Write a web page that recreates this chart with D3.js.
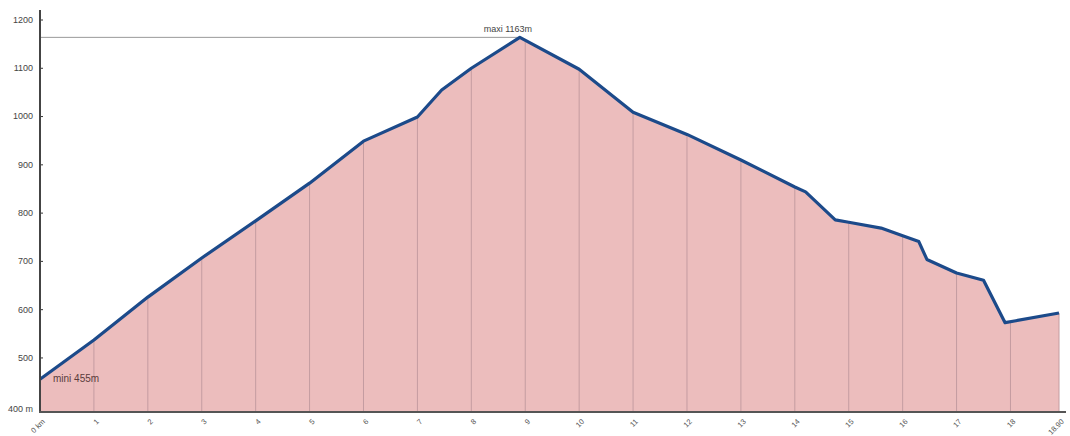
<!DOCTYPE html>
<html>
<head>
<meta charset="utf-8">
<script src="https://cdn.jsdelivr.net/npm/d3@7"></script>
<style>
body { margin: 0; background: #fff; }
svg { display: block; font-family: "Liberation Sans", Arial, sans-serif; }
</style>
</head>
<body>
<svg class="chart" width="1070" height="436"></svg>
<script>
// profile: distance (km) and elevation (m)
var km =   [0, 1, 2, 3, 4, 5, 6, 7, 7.45, 8, 8.9, 10, 11, 12, 13, 14, 14.2, 14.75, 15, 15.6, 16, 16.3, 16.45, 17, 17.5, 17.9, 18.1, 18.9];
var elev = [455, 536, 625, 706, 783, 861, 948, 998, 1054, 1099, 1163, 1097, 1008, 962, 909, 853, 843, 785, 780, 768, 752, 740, 703, 675, 660, 572, 576, 592];
var xTicks = [0, 1, 2, 3, 4, 5, 6, 7, 8, 9, 10, 11, 12, 13, 14, 15, 16, 17, 18, 18.9];
var xLabels = ["0 km", "1", "2", "3", "4", "5", "6", "7", "8", "9", "10", "11", "12", "13", "14", "15", "16", "17", "18", "18.90"];
var yTicks = [500, 600, 700, 800, 900, 1000, 1100, 1200];
var minLabel = "mini 455m", maxLabel = "maxi 1163m";

var svg = d3.select(".chart");
var x = d3.scaleLinear().domain([0, 18.9]).range([40, 1059]);
var y = d3.scaleLinear().domain([387, 1200]).range([412, 19.5]);
var pts = km.map(function(d, i) { return [d, elev[i]]; });

var area = d3.area().x(function(d) { return x(d[0]); }).y0(y(387)).y1(function(d) { return y(d[1]); });
var line = d3.line().x(function(d) { return x(d[0]); }).y(function(d) { return y(d[1]); });

svg.append("path").datum(pts).attr("d", area).attr("fill", "#ecbdbd");

// vertical grid inside fill
function elevAt(k) {
	for (var i = 1; i < km.length; i++) {
		if (k <= km[i]) {
			var t = (k - km[i-1]) / (km[i] - km[i-1]);
			return elev[i-1] + t * (elev[i] - elev[i-1]);
		}
	}
	return elev[elev.length - 1];
}
svg.append("g").selectAll("line").data(xTicks.slice(1)).enter().append("line")
	.attr("x1", function(d) { return x(d); })
	.attr("x2", function(d) { return x(d); })
	.attr("y1", y(387))
	.attr("y2", function(d) { return y(elevAt(d)); })
	.attr("stroke", "#c49ca1")
	.attr("stroke-width", 1);

// max line
svg.append("line")
	.attr("x1", x(0)).attr("x2", x(8.9))
	.attr("y1", y(1163)).attr("y2", y(1163))
	.attr("stroke", "#999").attr("stroke-width", 1);

svg.append("path").datum(pts).attr("d", line)
	.attr("fill", "none").attr("stroke", "#1c4a8a").attr("stroke-width", 3.2)
	.attr("stroke-linejoin", "round");

// y axis
var yAxis = d3.axisLeft(y).tickValues(yTicks).tickSize(3).tickFormat(d3.format("d"));
var gy = svg.append("g").attr("transform", "translate(40,0)").call(yAxis);
gy.select(".domain").remove();
gy.selectAll(".tick line").attr("x2", 3).attr("stroke", "#333");
gy.selectAll("text").attr("fill", "#444").style("font-size", "9px").attr("x", -7);
svg.append("line").attr("x1", 40).attr("x2", 40).attr("y1", 10).attr("y2", 413)
	.attr("stroke", "#444").attr("stroke-width", 2);
svg.append("text").attr("x", 33).attr("y", 412).attr("text-anchor", "end")
	.attr("fill", "#444").style("font-size", "9px").text("400 m");

// x axis
var xAxis = d3.axisBottom(x).tickValues(xTicks).tickSize(0)
	.tickFormat(function(d, i) { return xLabels[i]; });
var gx = svg.append("g").attr("transform", "translate(0,412)").call(xAxis);
gx.select(".domain").remove();
gx.selectAll("text").attr("fill", "#555").style("font-size", "7.5px")
	.attr("text-anchor", "end").attr("dy", 0).attr("y", 0)
	.attr("transform", "translate(5,10) rotate(-45)");
svg.append("line").attr("x1", 39).attr("x2", 1066).attr("y1", 412).attr("y2", 412)
	.attr("stroke", "#555").attr("stroke-width", 2);

svg.append("text").attr("x", x(0) + 13).attr("y", y(455) + 3)
	.attr("fill", "#5a3b3b").style("font-size", "10px").text(minLabel);
svg.append("text").attr("x", x(8.9) - 12).attr("y", y(1163) - 5).attr("text-anchor", "middle")
	.attr("fill", "#444").style("font-size", "9px").text(maxLabel);
</script>
</body>
</html>
